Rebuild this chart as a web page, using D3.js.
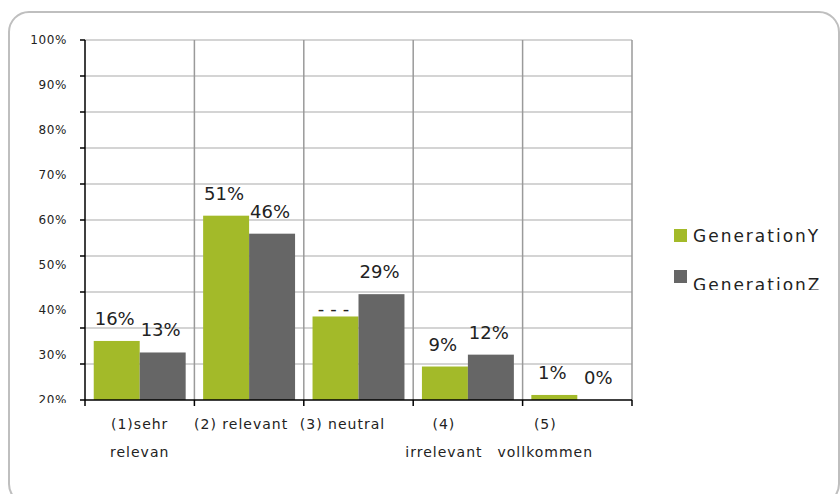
<!DOCTYPE html>
<html>
<head>
<meta charset="utf-8">
<script src="https://cdn.jsdelivr.net/npm/d3@7/dist/d3.min.js"></script>
<style>
  body { margin: 0; background: #fff; }
  svg { display: block; font-family: "DejaVu Sans", sans-serif; }
</style>
</head>
<body>
<svg id="chart" width="840" height="494"></svg>
<script>
// data
const categories = ['(1)sehr relevan', '(2) relevant', '(3) neutral', '(4) irrelevant', '(5) vollkommen'];
const categoryLines = [['(1)sehr', 'relevan'], ['(2) relevant'], ['(3) neutral'], ['(4)', 'irrelevant'], ['(5)', 'vollkommen']];
const seriesNames = ['GenerationY', 'GenerationZ'];
const genY = [16.4, 51.2, 23.2, 9.3, 1.4];
const genZ = [13.2, 46.2, 29.4, 12.6, 0];
const genYLabels = ['16%', '51%', '---', '9%', '1%'];
const genZLabels = ['13%', '46%', '29%', '12%', '0%'];
const yTickLabels = ['100%', '90%', '80%', '70%', '60%', '50%', '40%', '30%', '20%'];
const colors = ['#a3ba29', '#666666'];

const svg = d3.select('#chart');
const plotLeft = 85, plotRight = 632, plotTop = 40, plotBottom = 400;

const defs = svg.append('defs');
defs.append('clipPath').attr('id', 'ylab').append('rect')
  .attr('x', 0).attr('y', 0).attr('width', 84).attr('height', 403);
defs.append('clipPath').attr('id', 'leg2').append('rect')
  .attr('x', 640).attr('y', 0).attr('width', 200).attr('height', 290);

// outer rounded frame
svg.append('rect')
  .attr('x', 9).attr('y', 12).attr('width', 830).attr('height', 492)
  .attr('rx', 20)
  .attr('fill', 'none')
  .attr('stroke', '#bfbfbf')
  .attr('stroke-width', 2);

const x0 = d3.scaleBand().domain(categories).range([plotLeft, plotRight]);
const x1 = d3.scaleBand().domain(seriesNames).range([0, x0.bandwidth()]).paddingOuter(0.19);
const y = d3.scaleLinear().domain([0, 100]).range([plotBottom, plotTop]);
const yLab = d3.scalePoint().domain(yTickLabels).range([plotTop, plotBottom]);
// category labels in the original sit on a slightly narrower spacing
const xLab = d3.scaleBand().domain(categories).range([89, 596]);

// horizontal gridlines
svg.append('g')
  .selectAll('line')
  .data(y.ticks(10).filter(d => d > 0))
  .join('line')
  .attr('x1', plotLeft).attr('x2', plotRight)
  .attr('y1', d => y(d)).attr('y2', d => y(d))
  .attr('stroke', '#d4d4d4')
  .attr('stroke-width', 2);

// vertical category separators
svg.append('g')
  .selectAll('line')
  .data(categories)
  .join('line')
  .attr('x1', d => x0(d) + x0.bandwidth()).attr('x2', d => x0(d) + x0.bandwidth())
  .attr('y1', plotTop).attr('y2', plotBottom)
  .attr('stroke', '#9a9a9a')
  .attr('stroke-width', 1.5);

// bars
const rows = categories.map((c, i) => ({
  cat: c,
  vals: [
    { s: seriesNames[0], v: genY[i], label: genYLabels[i] },
    { s: seriesNames[1], v: genZ[i], label: genZLabels[i] }
  ]
}));

const groups = svg.append('g')
  .selectAll('g')
  .data(rows)
  .join('g')
  .attr('transform', d => `translate(${x0(d.cat)},0)`);

groups.selectAll('rect')
  .data(d => d.vals)
  .join('rect')
  .attr('x', d => x1(d.s))
  .attr('width', x1.bandwidth())
  .attr('y', d => y(d.v))
  .attr('height', d => plotBottom - y(d.v))
  .attr('fill', (d, i) => colors[i]);

// the hidden label of (3) shows only as dashes, sitting low
groups.selectAll('text')
  .data(d => d.vals)
  .join('text')
  .attr('x', d => x1(d.s) + x1.bandwidth() / 2 - 2 + (d.label === '---' ? 3 : 0))
  .attr('y', d => y(d.v) - (d.label === '---' ? 1 : 16))
  .attr('text-anchor', 'middle')
  .attr('font-size', 18)
  .attr('letter-spacing', d => d.label === '---' ? 6 : 0)
  .attr('fill', '#222')
  .text(d => d.label);

// y axis line and ticks
const yAxis = svg.append('g');
yAxis.append('line')
  .attr('x1', plotLeft).attr('x2', plotLeft).attr('y1', plotTop).attr('y2', plotBottom)
  .attr('stroke', '#000').attr('stroke-width', 1.5);
yAxis.selectAll('.tick')
  .data(y.ticks(10))
  .join('line')
  .attr('class', 'tick')
  .attr('x1', plotLeft - 5).attr('x2', plotLeft)
  .attr('y1', d => y(d)).attr('y2', d => y(d))
  .attr('stroke', '#000').attr('stroke-width', 1.5);
yAxis.append('g').attr('clip-path', 'url(#ylab)')
  .selectAll('text')
  .data(yTickLabels)
  .join('text')
  .attr('x', 67)
  .attr('y', d => yLab(d))
  .attr('dy', '0.35em')
  .attr('text-anchor', 'end')
  .attr('font-size', 12)
  .attr('letter-spacing', 0.6)
  .attr('fill', '#222')
  .text(d => d);

// x axis line and ticks
const xAxis = svg.append('g');
xAxis.append('line')
  .attr('x1', plotLeft).attr('x2', plotRight).attr('y1', plotBottom).attr('y2', plotBottom)
  .attr('stroke', '#000').attr('stroke-width', 1.5);
xAxis.selectAll('.tick')
  .data([plotLeft].concat(categories.map(c => x0(c) + x0.bandwidth())))
  .join('line')
  .attr('class', 'tick')
  .attr('x1', d => d).attr('x2', d => d)
  .attr('y1', plotBottom).attr('y2', plotBottom + 6)
  .attr('stroke', '#000').attr('stroke-width', 1.5);

xAxis.selectAll('text')
  .data(categories)
  .join('text')
  .attr('x', d => xLab(d) + xLab.bandwidth() / 2)
  .attr('y', 429)
  .attr('text-anchor', 'middle')
  .attr('font-size', 14)
  .attr('letter-spacing', 1)
  .attr('fill', '#222')
  .each(function (d, i) {
    d3.select(this).selectAll('tspan')
      .data(categoryLines[i])
      .join('tspan')
      .attr('x', xLab(d) + xLab.bandwidth() / 2)
      .attr('dy', (t, j) => j === 0 ? 0 : 28)
      .text(t => t);
  });

// legend
const legend = svg.append('g');
seriesNames.forEach((name, i) => {
  const g = legend.append('g');
  if (i === 1) g.attr('clip-path', 'url(#leg2)');
  const ly = 236 + i * 42;
  g.append('rect')
    .attr('x', 674).attr('y', ly - 7 - (i === 1 ? 1 : 0))
    .attr('width', 13).attr('height', 13)
    .attr('fill', colors[i]);
  g.append('text')
    .attr('x', 693).attr('y', ly + (i === 1 ? 7 : 0))
    .attr('dy', '0.35em')
    .attr('font-size', 17)
    .attr('letter-spacing', 2)
    .attr('fill', '#222')
    .text(name);
});
</script>
</body>
</html>
